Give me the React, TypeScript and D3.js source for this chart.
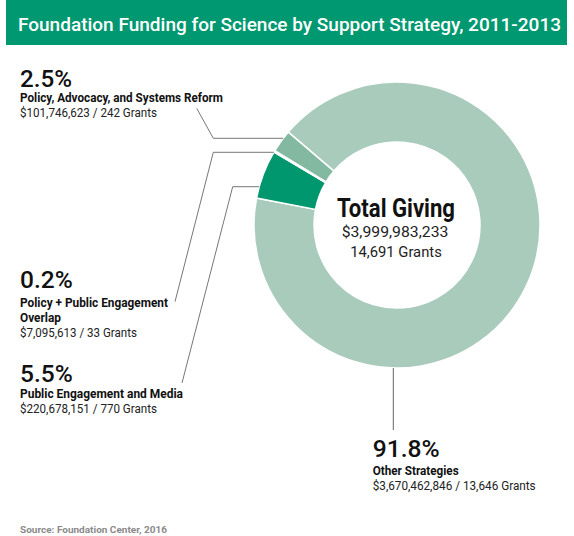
import React from "react";
import * as d3 from "d3";

const title = "Foundation Funding for Science by Support Strategy, 2011-2013";
const source = "Source: Foundation Center, 2016";

// Slices in drawing order (clockwise from the top-left)
const categories = [
  "Other Strategies",
  "Public Engagement and Media",
  "Policy + Public Engagement Overlap",
  "Policy, Advocacy, and Systems Reform",
];
const amounts = [3670462846, 220678151, 7095613, 101746623];
const grants = [13646, 770, 33, 242];
const percentLabels = ["91.8%", "5.5%", "0.2%", "2.5%"];
const totalAmount = 3999983233;
const totalGrants = 14691;

const colors = ["#a9cbbc", "#00976e", "#4fa882", "#82b9a0"];

const W = 574;
const H = 536;
const cx = 397;
const cy = 225;
const R = 143;
const r0 = 83;
const FONT = "Roboto, 'Liberation Sans Narrow', 'Liberation Sans', sans-serif";

const fmt = d3.format(",");

export default function App() {
  const pie = d3
    .pie<number>()
    .sort(null)
    .value((d) => d)
    .startAngle((-49.5 * Math.PI) / 180)
    .endAngle(((360 - 49.5) * Math.PI) / 180);
  const arcs = pie(amounts);
  const arc = d3.arc<d3.PieArcDatum<number>>().innerRadius(r0).outerRadius(R);

  // x on the outer circle's left side for a given y
  const leftX = (y: number) => cx - Math.sqrt(R * R - (y - cy) * (y - cy));
  const bottomY = (x: number) => cy + Math.sqrt(R * R - (x - cx) * (x - cx));

  const leaders = [
    { idx: 3, x1: 196.7, y1: 108.3, ex: 213.3, ey: 138.3 },
    { idx: 2, x1: 175, y1: 301.7, ex: 213.3, ey: 152.3 },
    { idx: 1, x1: 182, y1: 383, ex: 232.7, ey: 186.7 },
  ];
  const otherX = 393.3;
  const otherBottom = 430;

  const labelBlock = (
    pct: string,
    lines: string[],
    lineWidths: number[],
    amountText: string,
    amountWidth: number,
    x: number,
    yPct: number,
    pctWidth: number,
    yLine0: number,
    yAmount: number
  ) => (
    <g>
      <text x={x} y={yPct} fontSize={24.5} fontWeight={500} fill="#111" textLength={pctWidth} lengthAdjust="spacingAndGlyphs">
        {pct}
      </text>
      {lines.map((l, i) => (
        <text
          key={i}
          x={x}
          y={yLine0 + i * 15}
          fontSize={13}
          fontWeight="bold"
          fill="#111"
          textLength={lineWidths[i]}
          lengthAdjust="spacingAndGlyphs"
        >
          {l}
        </text>
      ))}
      <text x={x} y={yAmount} fontSize={12} fill="#222" textLength={amountWidth} lengthAdjust="spacingAndGlyphs">
        {amountText}
      </text>
    </g>
  );

  const amt = (i: number) => `$${fmt(amounts[i])} / ${fmt(grants[i])} Grants`;

  return (
    <svg width={W} height={H} style={{ display: "block", position: "absolute", left: 0, top: 0 }} fontFamily={FONT}>
      <rect x={0} y={0} width={W} height={H} fill="#fff" />
      <rect x={6} y={0} width={561} height={45} fill="#009870" />
      <text x={18} y={30.5} fontSize={18.5} fontWeight={500} fill="#fff" textLength={543} lengthAdjust="spacingAndGlyphs">
        {title}
      </text>

      <g transform={`translate(${cx},${cy})`}>
        {arcs.map((a, i) => (
          <path key={i} d={arc(a) || ""} fill={colors[i]} stroke="#fff" strokeWidth={1.5} />
        ))}
      </g>

      {leaders.map((l, i) => (
        <polyline
          key={i}
          points={`${l.x1},${l.y1} ${l.ex},${l.ey} ${leftX(l.ey)},${l.ey}`}
          fill="none"
          stroke="#777"
          strokeWidth={1}
        />
      ))}
      <line x1={otherX} y1={bottomY(otherX)} x2={otherX} y2={otherBottom} stroke="#666" strokeWidth={1} />

      <text x={396} y={216.7} textAnchor="middle" fontSize={25} fontWeight="bold" fill="#111" textLength={118} lengthAdjust="spacingAndGlyphs">
        Total Giving
      </text>
      <text x={395} y={236.7} textAnchor="middle" fontSize={15} fill="#222" textLength={106.7} lengthAdjust="spacingAndGlyphs">
        {`$${fmt(totalAmount)}`}
      </text>
      <text x={396} y={256.7} textAnchor="middle" fontSize={15} fill="#222" textLength={91.7} lengthAdjust="spacingAndGlyphs">
        {`${fmt(totalGrants)} Grants`}
      </text>

      {labelBlock(percentLabels[3], [categories[3]], [203], amt(3), 137, 20, 86.7, 52, 102.3, 116.5)}
      {labelBlock(percentLabels[2], ["Policy + Public Engagement", "Overlap"], [148, 41], amt(2), 117, 20, 288, 52.7, 306.7, 337)}
      {labelBlock(percentLabels[1], [categories[1]], [163], amt(1), 137, 20, 381.7, 52.7, 398, 412.7)}
      {labelBlock(percentLabels[0], [categories[0]], [86], amt(0), 163, 372.7, 456.7, 67, 475, 490)}

      <text x={20} y={532.5} fontSize={9.5} fontWeight="bold" fill="#8a8a8a" textLength={147} lengthAdjust="spacingAndGlyphs">
        {source}
      </text>
    </svg>
  );
}
